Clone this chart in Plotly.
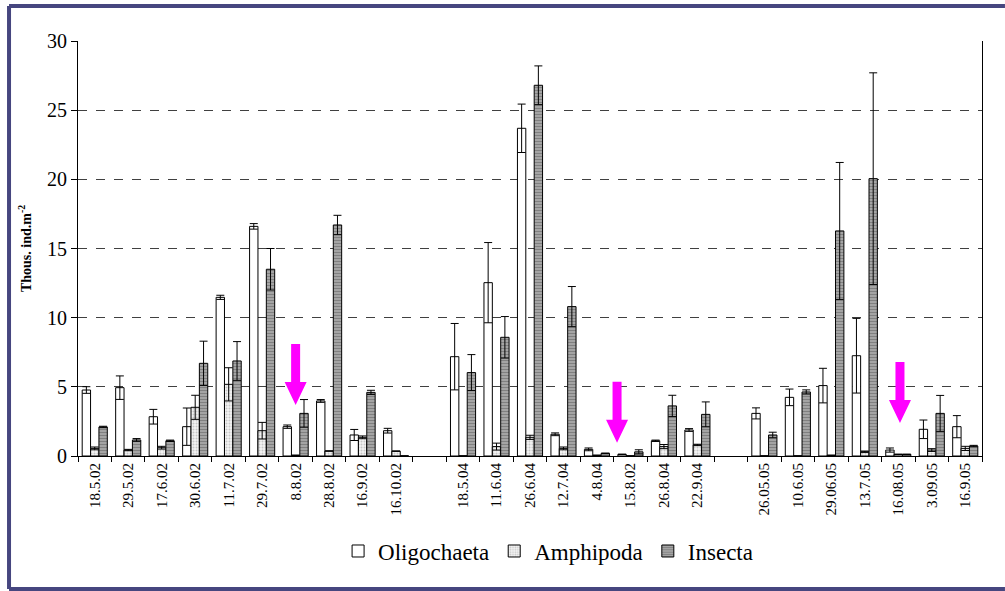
import plotly.graph_objects as go

categories = ["18.5.02", "29.5.02", "17.6.02", "30.6.02", "11.7.02", "29.7.02", "8.8.02",
              "28.8.02", "16.9.02", "16.10.02", " ",
              "18.5.04", "11.6.04", "26.6.04", "12.7.04", "4.8.04", "15.8.02", "26.8.04",
              "22.9.04", "  ",
              "26.05.05", "10.6.05", "29.06.05", "13.7.05", "16.08.05", "3.09.05", "16.9.05"]

oligochaeta = [4.77, 4.94, 2.84, 2.12, 11.47, 16.6, 2.12, 3.98, 1.52, 1.83, None,
               7.18, 12.53, 23.69, 1.57, 0.48, 0.12, 1.1, 1.88, None,
               3.08, 4.24, 5.09, 7.25, 0.43, 1.93, 2.12]
oligochaeta_err = [0.24, 0.85, 0.53, 1.35, 0.15, 0.2, 0.12, 0.1, 0.4, 0.17, None,
                   2.4, 2.9, 1.75, 0.1, 0.1, 0.0, 0.05, 0.1, None,
                   0.4, 0.6, 1.25, 2.7, 0.15, 0.67, 0.8]

amphipoda = [0.55, 0.43, 0.6, 3.52, 5.18, 1.83, 0.05, 0.36, 1.35, 0.35, None,
             0.0, 0.68, 1.35, 0.55, 0.05, 0.0, 0.68, 0.8, None,
             0.0, 0.0, 0.05, 0.31, 0.12, 0.43, 0.55]
amphipoda_err = [0.1, 0.05, 0.1, 0.87, 1.2, 0.6, 0.0, 0.0, 0.1, 0.0, None,
                 0.0, 0.25, 0.15, 0.1, 0.0, 0.0, 0.15, 0.05, None,
                 0.0, 0.0, 0.0, 0.05, 0.0, 0.1, 0.15]

insecta = [2.1, 1.16, 1.1, 6.7, 6.87, 13.5, 3.08, 16.7, 4.6, 0.0, None,
           6.03, 8.58, 26.8, 10.8, 0.19, 0.3, 3.62, 3.01, None,
           1.52, 4.63, 16.27, 20.05, 0.12, 3.08, 0.72]
insecta_err = [0.05, 0.1, 0.05, 1.6, 1.4, 1.5, 1.0, 0.7, 0.15, 0.0, None,
               1.3, 1.5, 1.4, 1.45, 0.02, 0.15, 0.77, 0.9, None,
               0.2, 0.15, 4.95, 7.65, 0.0, 1.3, 0.05]

# arrow annotations: (category index position, tip value)
arrow_x = [6.0, 15.6, 24.05]
arrow_tip = [3.69, 0.96, 2.39]

y_ticks = [0, 5, 10, 15, 20, 25, 30]

FONT = "Liberation Serif"

def err(arr):
    return dict(type="data", array=arr, visible=True, color="black", thickness=1, width=4)

fig = go.Figure()
fig.add_trace(go.Bar(
    name="Oligochaeta", x=categories, y=oligochaeta, error_y=err(oligochaeta_err),
    marker=dict(color="white", line=dict(color="black", width=1))))
fig.add_trace(go.Bar(
    name="Amphipoda", x=categories, y=amphipoda, error_y=err(amphipoda_err),
    marker=dict(color="white", line=dict(color="black", width=1),
                pattern=dict(shape=".", fgcolor="#9a9a9a", bgcolor="#f2f2f2", size=3, solidity=0.35))))
fig.add_trace(go.Bar(
    name="Insecta", x=categories, y=insecta, error_y=err(insecta_err),
    marker=dict(color="#808080", line=dict(color="black", width=1),
                pattern=dict(shape="-", fgcolor="#505050", bgcolor="#b0b0b0", size=3, solidity=0.5))))

shapes = []
for xa, tip in zip(arrow_x, arrow_tip):
    shapes.append(dict(
        type="path", xref="x", yref="y", xsizemode="pixel", ysizemode="pixel",
        xanchor=xa, yanchor=tip,
        path="M0,0 L-11,23 L-4.5,23 L-4.5,61 L4.5,61 L4.5,23 L11,23 Z",
        fillcolor="#ff00ff", line=dict(width=0)))

# outer frame (left, top, bottom edges)
frame = dict(color="#46467f", width=4)
x_left, x_right, y_bot, y_top = -0.0763, 1.0254, -0.3205, 1.0843
shapes.append(dict(type="line", xref="paper", yref="paper", x0=x_left, x1=x_left,
                   y0=y_bot, y1=y_top, line=frame))
shapes.append(dict(type="line", xref="paper", yref="paper", x0=x_left, x1=x_right,
                   y0=y_top, y1=y_top, line=frame))
shapes.append(dict(type="line", xref="paper", yref="paper", x0=x_left, x1=x_right,
                   y0=y_bot, y1=y_bot, line=frame))

fig.update_layout(
    width=1005, height=591,
    margin=dict(l=78, r=23, t=41, b=135),
    paper_bgcolor="white", plot_bgcolor="white",
    barmode="group", bargap=0.25, bargroupgap=0,
    font=dict(family=FONT, color="black"),
    showlegend=True,
    legend=dict(orientation="h", x=0.52, xanchor="center", y=-0.229, yanchor="middle",
                font=dict(size=23, family=FONT), itemwidth=30, traceorder="normal",
                tracegroupgap=0),
    shapes=shapes,
    xaxis=dict(type="category", tickangle=-90, tickfont=dict(size=15, family=FONT),
               showline=True, linecolor="black", linewidth=1,
               ticks="outside", tickson="boundaries", ticklen=5, tickcolor="black",
               showgrid=False, fixedrange=True),
    yaxis=dict(range=[0, 30], tickvals=y_ticks, tickfont=dict(size=20, family=FONT),
               showline=True, mirror=True, linecolor="black", linewidth=1,
               ticks="outside", ticklen=6, tickcolor="black",
               showgrid=True, gridcolor="#404040", gridwidth=1, griddash="dash",
               zeroline=False,
               title=dict(text="<b>Thous. ind.m<sup>-2</sup></b>", font=dict(size=14, family=FONT),
                          standoff=12)),
)

fig.write_html("out.html")
